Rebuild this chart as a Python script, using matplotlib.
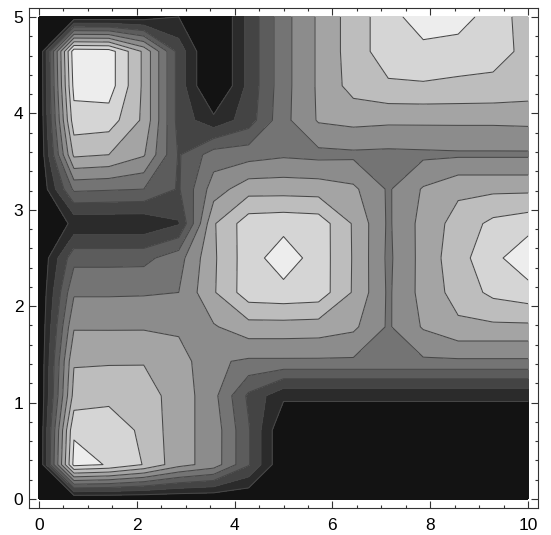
import numpy as np
import matplotlib
matplotlib.use("Agg")
import matplotlib.pyplot as plt
from matplotlib.ticker import MultipleLocator

# sample grid: 15 x 15 points over [0,10] x [0,5]
xs = np.linspace(0, 10, 15)
ys = np.linspace(0, 5, 15)

# sampled values, one list per row of constant y (bottom row first)
r00 = [0, 0, 0, 0, 0, 0, 0, 0, 0, 0, 0, 0, 0, 0, 0]
r01 = [0, 9.3, 8.94, 7.95, 6.37, 5.57, 3.1, 0, 0, 0, 0, 0, 0, 0, 0]
r02 = [0, 8.88, 8.6, 7.78, 6.36, 5.58, 3.1, 0, 0, 0, 0, 0, 0, 0, 0]
r03 = [0, 7.35, 7.73, 7.4, 6.6, 5.3, 2.8, 1.2, 1.2, 1.2, 1.2, 1.2, 1.2, 1.2, 1.2]
r04 = [0, 6.92, 6.9, 6.95, 6.5, 5.15, 4.85, 4.85, 4.85, 4.85, 4.85, 4.85, 4.85, 4.85, 4.85]
r05 = [0, 5.9, 5.9, 5.9, 5.8, 5.9, 6.6, 6.6, 6.55, 6.2, 4.88, 6.1, 6.8, 6.8, 6.8]
r06 = [0, 4.87, 4.87, 4.9, 5.0, 6.9, 8.56, 8.68, 8.56, 6.9, 4.85, 6.35, 7.4, 8.25, 8.58]
r07 = [0, 3.68, 3.68, 3.7, 4.6, 6.85, 8.56, 9.53, 8.56, 6.92, 4.8, 6.35, 7.63, 8.7, 9.75]
r08 = [0, 1.2, 1.2, 1.2, 1.9, 6.9, 8.56, 8.68, 8.56, 6.9, 4.85, 6.35, 7.4, 8.25, 8.58]
r09 = [0, 4.2, 4.1, 4.0, 2.9, 5.5, 6.6, 6.6, 6.55, 6.2, 4.88, 6.1, 6.8, 6.8, 6.8]
r10 = [0, 7.2, 7.0, 6.1, 2.9, 4.5, 4.6, 4.85, 4.72, 4.8, 4.75, 4.8, 4.85, 4.85, 4.85]
r11 = [0, 8.6, 8.5, 6.8, 2.6, 1.3, 2.5, 4.7, 6.1, 6.3, 6.2, 6.2, 6.2, 6.2, 6.25]
r12 = [0, 9.3, 9.5, 6.8, 2.6, -0.5, 2.3, 4.64, 6.15, 7.4, 7.85, 7.9, 7.85, 7.8, 7.6]
r13 = [0, 9.6, 9.5, 6.8, 2.6, -0.5, 2.3, 4.64, 6.15, 7.5, 8.54, 8.67, 8.4, 8.3, 7.8]
r14 = [0, 0.3, 0.3, 0.5, 1.0, -0.5, 2.3, 4.64, 6.15, 7.5, 8.54, 9.64, 9.6, 8.35, 7.7]

z = np.array([r00, r01, r02, r03, r04, r05, r06, r07,
              r08, r09, r10, r11, r12, r13, r14])

levels = [-2, 1, 2, 3, 4, 5, 6, 7, 8, 9, 12]
grays = [str(round(0.075 + 0.095 * k, 3)) for k in range(10)]

fig = plt.figure(figsize=(5.51, 5.35), dpi=100)
ax = fig.add_axes([29 / 551, 27 / 535, 509 / 551, 500 / 535])

ax.contourf(xs, ys, z, levels=levels, colors=grays)
ax.contour(xs, ys, z, levels=levels[1:-1], colors="0.28", linewidths=0.75)

ax.set_xlim(-0.204, 10.204)
ax.set_ylim(-0.093, 5.093)

ax.xaxis.set_major_locator(MultipleLocator(2))
ax.xaxis.set_minor_locator(MultipleLocator(0.5))
ax.yaxis.set_major_locator(MultipleLocator(1))
ax.yaxis.set_minor_locator(MultipleLocator(0.2))
ax.tick_params(which="both", direction="in", top=True, right=True,
               color="0.2", width=0.8)
ax.tick_params(which="major", length=5, labelsize=12.5, pad=4)
ax.tick_params(which="minor", length=2.5)
ax.tick_params(axis="x", which="major", pad=7)
for lab in ax.get_xticklabels() + ax.get_yticklabels():
    lab.set_family("Liberation Sans")

for s in ax.spines.values():
    s.set_linewidth(0.8)
    s.set_color("0.2")

fig.savefig("out.png", dpi=100)
